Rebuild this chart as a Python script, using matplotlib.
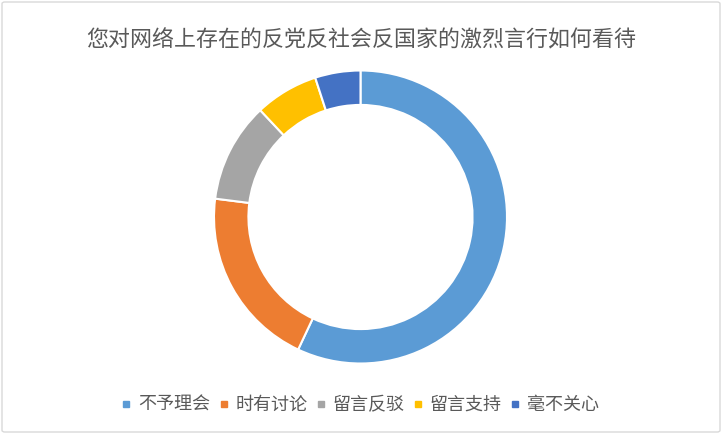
import matplotlib.pyplot as plt
from matplotlib.lines import Line2D
from matplotlib.patches import FancyBboxPatch

plt.rcParams['font.family'] = ['Noto Sans CJK SC', 'DejaVu Sans']

title = "您对网络上存在的反党反社会反国家的激烈言行如何看待"
labels = ["不予理会", "时有讨论", "留言反驳", "留言支持", "毫不关心"]
values = [57, 20, 11, 7, 5]
colors = ["#5B9BD5", "#ED7D31", "#A5A5A5", "#FFC000", "#4472C4"]

W, H = 722, 434
fig = plt.figure(figsize=(W / 100, H / 100), dpi=100)

# light frame round the chart area
fig.patches.append(FancyBboxPatch((2 / W, 2 / H), 1 - 4 / W, 1 - 4 / H,
                                  boxstyle="round,pad=0,rounding_size=0.004",
                                  transform=fig.transFigure, fill=False,
                                  edgecolor="#D9D9D9", linewidth=1))

cx, cy, r = 360.5, 217, 146.5
ax = fig.add_axes([(cx - r) / W, 1 - (cy + r) / H, 2 * r / W, 2 * r / H])
ax.pie(values, colors=colors, startangle=90, counterclock=False, radius=1,
       wedgeprops=dict(width=0.235, edgecolor="white", linewidth=1.5))
ax.set_xlim(-1, 1)
ax.set_ylim(-1, 1)
ax.set_aspect("equal")
ax.axis("off")

fig.text(0.5, 1 - 40 / H, title, ha="center", va="center",
         fontsize=15.8, color="#595959")

handles = [Line2D([], [], marker="s", linestyle="none", markersize=5,
                  markerfacecolor=c, markeredgecolor=c) for c in colors]
fig.legend(handles, labels, loc="center", bbox_to_anchor=(0.5, 1 - 405 / H),
           ncol=5, frameon=False, fontsize=13, labelcolor="#595959",
           handlelength=0.4, handletextpad=0.45, columnspacing=0.55)

fig.savefig("out.png", dpi=100)
